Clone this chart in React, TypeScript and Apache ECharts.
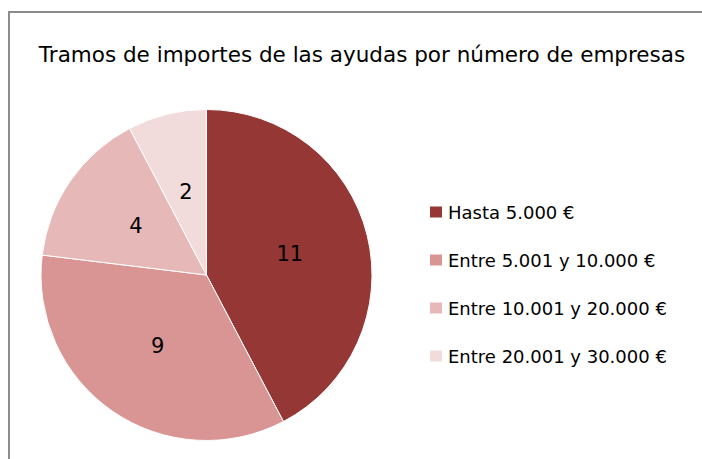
import React, { useEffect, useRef } from "react";
import * as echarts from "echarts";

const categories = [
  "Hasta 5.000 €",
  "Entre 5.001 y 10.000 €",
  "Entre 10.001 y 20.000 €",
  "Entre 20.001 y 30.000 €",
];
const values = [11, 9, 4, 2];
const colors = ["#953735", "#D99594", "#E6B9B8", "#F2DCDB"];
const title = "Tramos de importes de las ayudas por número de empresas";

export default function App() {
  const ref = useRef<HTMLDivElement>(null);
  useEffect(() => {
    const chart = echarts.init(ref.current!, null, { renderer: "svg" });
    const font = "DejaVu Sans, Verdana, sans-serif";
    chart.setOption({
      animation: false,
      color: colors,
      title: {
        text: title,
        left: 357,
        textAlign: "center",
        top: 38,
        textStyle: { fontFamily: font, fontSize: 21.5, fontWeight: "normal", color: "#000" },
      },
      graphic: [
        {
          type: "rect",
          shape: { x: 9, y: 12, width: 720, height: 470 },
          style: { fill: "none", stroke: "#8c8c8c", lineWidth: 2 },
          silent: true,
          z: -1,
        },
      ],
      legend: {
        orient: "vertical",
        left: 423,
        top: 198,
        itemWidth: 14,
        itemHeight: 13,
        itemGap: 30,
        icon: "rect",
        textStyle: { fontFamily: font, fontSize: 18, color: "#000" },
        data: categories,
      },
      series: [
        {
          type: "pie",
          center: [206.5, 275],
          radius: [0, 165.5],
          startAngle: 90,
          clockwise: true,
          label: {
            show: true,
            position: "inside",
            formatter: "{c}",
            fontFamily: font,
            fontSize: 21,
            color: "#000",
          },
          labelLine: { show: false },
          itemStyle: { borderColor: "#fff", borderWidth: 1 },
          emphasis: { disabled: true },
          data: categories.map((name, i) => ({ name, value: values[i] })),
        },
      ],
    });
    return () => chart.dispose();
  }, []);
  return <div ref={ref} style={{ width: 702, height: 459, position: "absolute", left: 0, top: 0, background: "#fff" }} />;
}
